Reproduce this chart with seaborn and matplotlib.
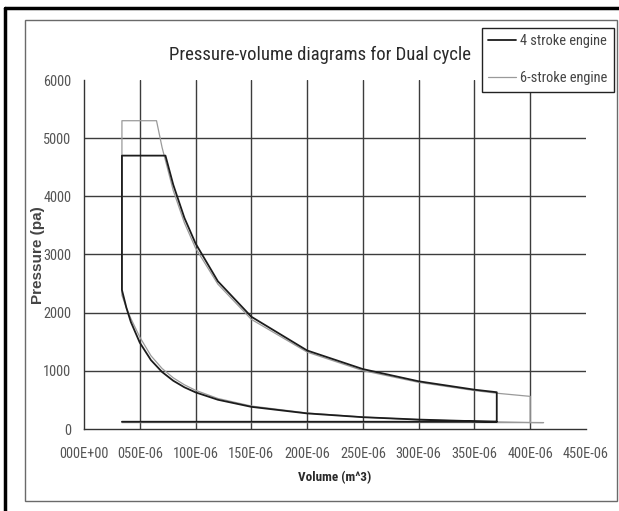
import os
import matplotlib
matplotlib.use('Agg')
import matplotlib.pyplot as plt
import seaborn as sns
import pandas as pd
from matplotlib.lines import Line2D
from matplotlib.patches import Rectangle
from matplotlib import font_manager as fm
from matplotlib.textpath import TextPath
from matplotlib.font_manager import FontProperties

# Volumes in 1E-06 m^3, pressures in pa
vol_4 = [34, 370, 350, 300, 250, 200, 150, 120, 100, 90, 80, 70, 60, 50, 42, 38, 34,
         34, 73, 80, 90, 100, 120, 150, 200, 250, 300, 350, 370, 370]
pres_4 = [125, 125, 134, 162, 203, 268, 381, 503, 630, 717, 830, 980, 1185, 1485, 1840, 2085, 2390,
          4700, 4700, 4200, 3630, 3190, 2540, 1930, 1350, 1030, 820, 676, 632, 125]

vol_6 = [34, 412, 400, 350, 300, 250, 200, 150, 120, 100, 90, 80, 70, 60, 50, 42, 38, 34,
         34, 65, 70, 80, 90, 100, 120, 150, 200, 250, 300, 350, 370, 400, 400]
pres_6 = [110, 110, 112, 130, 160, 205, 275, 395, 525, 665, 760, 880, 1040, 1260, 1580, 1900, 2080, 2300,
          5300, 5300, 4840, 4100, 3545, 3110, 2490, 1885, 1322, 1004, 802, 661, 615, 561, 110]

x_ticks = [0, 50e-6, 100e-6, 150e-6, 200e-6, 250e-6, 300e-6, 350e-6, 400e-6, 450e-6]
x_tick_labels = ['000E+00', '050E-06', '100E-06', '150E-06', '200E-06',
                 '250E-06', '300E-06', '350E-06', '400E-06', '450E-06']
y_ticks = [0, 1000, 2000, 3000, 4000, 5000, 6000]

df4 = pd.DataFrame({'volume': [v * 1e-6 for v in vol_4], 'pressure': pres_4})
df6 = pd.DataFrame({'volume': [v * 1e-6 for v in vol_6], 'pressure': pres_6})

sns.set_style('white')
plt.rcParams['font.family'] = ['Liberation Sans', 'DejaVu Sans']


# look for a narrow / condensed face, the chart uses Arial Narrow
def find_face(bold):
    prefs = ['liberationsansnarrow', 'robotocondensed', 'opensans_condensed', 'opensans-condensed',
             'opensanscondensed', 'dejavusanscondensed', 'notosanscondensed', 'condensed', 'narrow']
    best = None
    for f in fm.fontManager.ttflist:
        fn = os.path.basename(f.fname).lower()
        if 'italic' in fn or 'oblique' in fn or 'light' in fn or 'thin' in fn or 'semi' in fn or 'extra' in fn:
            continue
        if ('bold' in fn) != bold:
            continue
        key = fn.replace(' ', '')
        for i, p in enumerate(prefs):
            if p in key:
                if best is None or i < best[0]:
                    best = (i, f.fname)
                break
    return best[1] if best else None


reg_file = find_face(False)
bold_file = find_face(True)


def face(bold=False):
    f = bold_file if bold else reg_file
    if f:
        return FontProperties(fname=f)
    return FontProperties(family='Liberation Sans', weight='bold' if bold else 'normal')


def fit(fp, text, width_px, max_size):
    # size so that the text is about as wide as in the chart
    w = TextPath((0, 0), text, size=10, prop=fp).get_extents().width
    size = min(max_size, 10 * width_px * 72 / 100 / w)
    fp = fp.copy()
    fp.set_size(size)
    return fp


tick_fp = fit(face(), '000E+00', 48, 11)
ytick_fp = tick_fp.copy()
title_fp = fit(face(), 'Pressure-volume diagrams for Dual cycle', 300, 14)
leg_fp = fit(face(), '4 stroke engine', 86, 11)
xlab_fp = fit(face(True), 'Volume (m^3)', 72, 11.5)
ylab_fp = fit(FontProperties(family='Liberation Sans', weight='bold'), 'Pressure (pa)', 112, 11)

W, H = 619, 511
fig = plt.figure(figsize=(W / 100, H / 100), dpi=100)
ax = fig.add_axes([84 / W, 1 - 429 / H, (586 - 84) / W, (429 - 80) / H])

# outer frame and chart border
fig.add_artist(Line2D([5 / W, 5 / W], [0, 1 - 8 / H], color='black', lw=2.5))
fig.add_artist(Line2D([5 / W, 1], [1 - 8 / H, 1 - 8 / H], color='black', lw=2.5))
fig.add_artist(Rectangle((25 / W, 1 - 501 / H), (617 - 25) / W, (501 - 20) / H,
                         transform=fig.transFigure, fill=False, edgecolor='#6a6a6a', lw=1))

sns.lineplot(data=df6, x='volume', y='pressure', sort=False, estimator=None,
             color='#9a9a9a', lw=0.9, ax=ax)
sns.lineplot(data=df4, x='volume', y='pressure', sort=False, estimator=None,
             color='#1c1c1c', lw=1.3, ax=ax)

ax.set_xlim(0, 450e-6)
ax.set_ylim(0, 6000)
ax.set_xticks(x_ticks)
ax.set_xticklabels(x_tick_labels)
ax.set_yticks(y_ticks)
ax.grid(True, color='#3c3c3c', lw=1.0)
ax.set_axisbelow(True)
xg = ax.xaxis.get_gridlines()
xg[0].set_visible(False)
xg[-1].set_visible(False)
yg = ax.yaxis.get_gridlines()
yg[0].set_visible(False)
yg[-1].set_visible(False)

for s in ['top', 'right']:
    ax.spines[s].set_visible(False)
for s in ['left', 'bottom']:
    ax.spines[s].set_color('#333333')
    ax.spines[s].set_linewidth(1.0)

ax.tick_params(axis='both', direction='inout', length=6, width=1, color='#333333',
               labelcolor='#555555')
ax.tick_params(axis='x', pad=10)
ax.tick_params(axis='y', pad=6)
for lbl in ax.get_xticklabels():
    lbl.set_fontproperties(tick_fp)
for lbl in ax.get_yticklabels():
    lbl.set_fontproperties(ytick_fp)
ax.set_xlabel('')
ax.set_ylabel('')

fig.text(320 / W, 1 - 55 / H, 'Pressure-volume diagrams for Dual cycle',
         ha='center', va='center', fontproperties=title_fp, color='#2a2a2a')
fig.text(335 / W, 1 - 478 / H, 'Volume (m^3)', ha='center', va='center',
         fontproperties=xlab_fp, color='#2a2a2a')
fig.text(38 / W, 1 - 255 / H, 'Pressure (pa)', ha='center', va='center', rotation=90,
         fontproperties=ylab_fp, color='#444444')

handles = [Line2D([], [], color='#1c1c1c', lw=1.3), Line2D([], [], color='#9a9a9a', lw=0.9)]
leg = ax.legend(handles, ['4 stroke engine', '6-stroke engine'], loc='upper left',
                bbox_to_anchor=(482 / W, 1 - 28 / H), bbox_transform=fig.transFigure,
                frameon=True, fancybox=False, edgecolor='#222222', framealpha=1,
                prop=leg_fp, labelspacing=1.6, handlelength=1.9, handletextpad=0.3,
                borderpad=0.45, borderaxespad=0)
leg.get_frame().set_linewidth(1.0)
for t in leg.get_texts():
    t.set_color('#444444')

fig.savefig('out.png', dpi=100)
